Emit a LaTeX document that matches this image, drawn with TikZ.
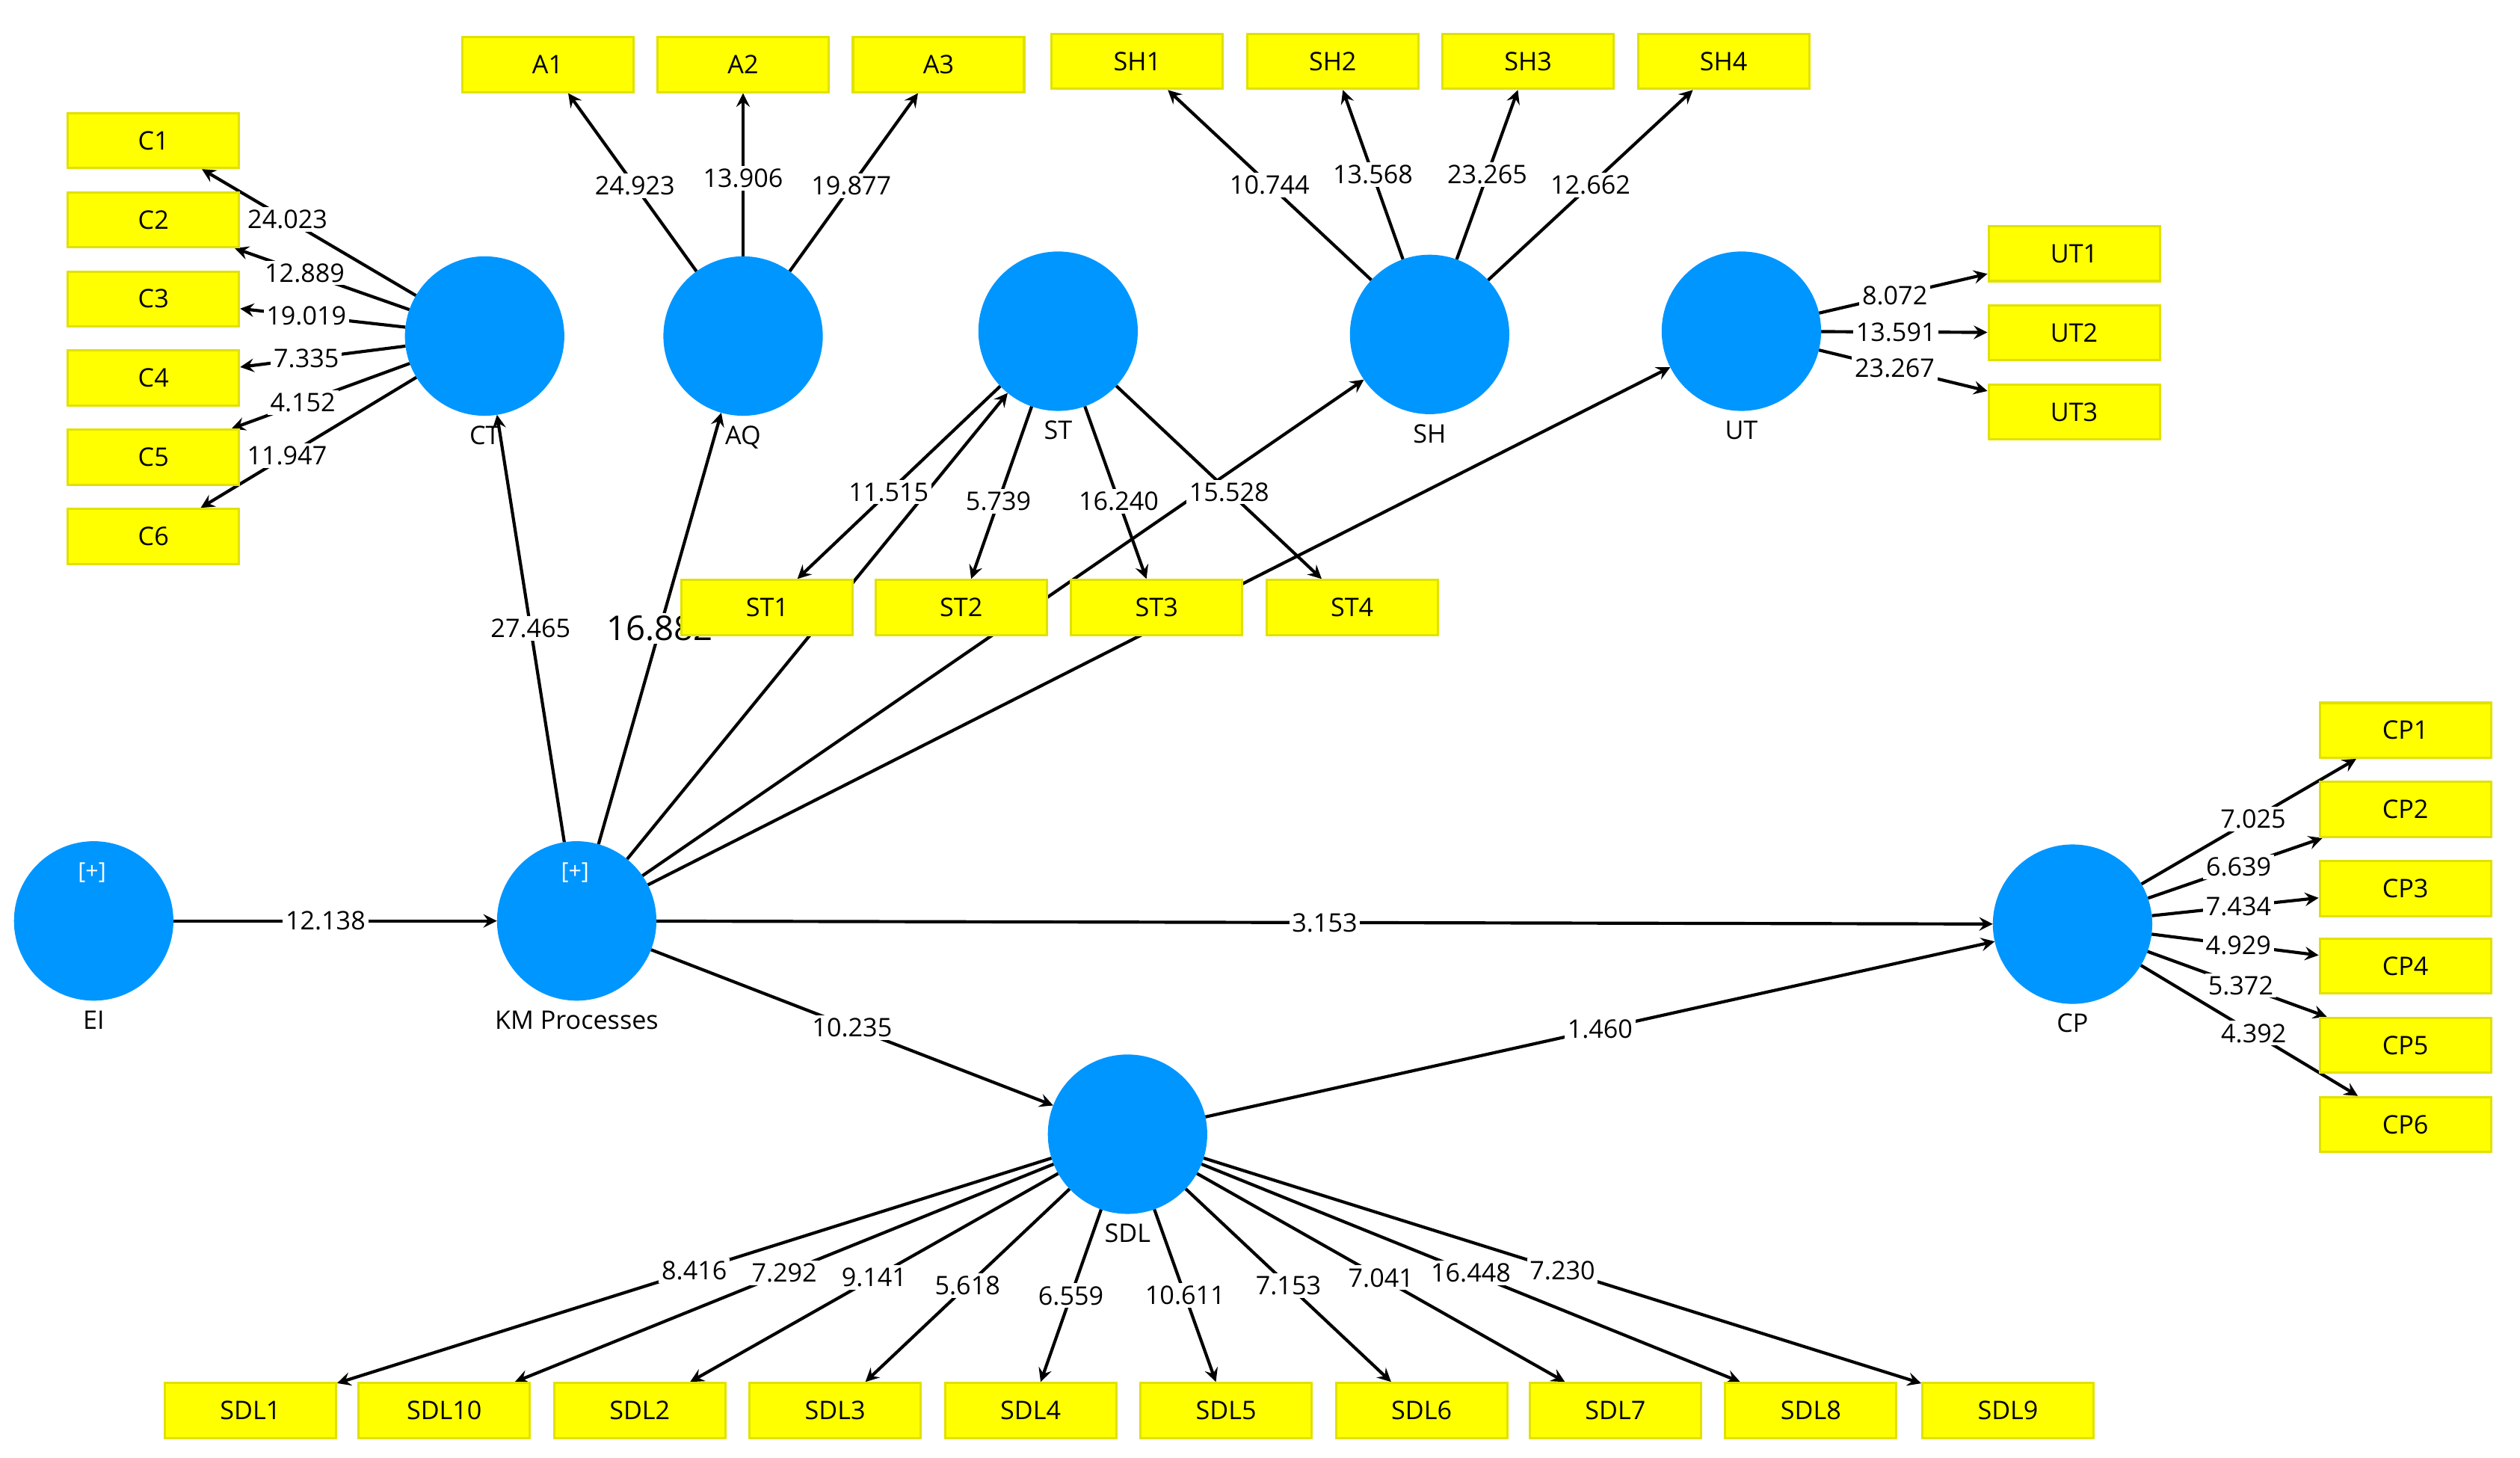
\documentclass[tikz,border=0pt]{standalone}
\usepackage{fontspec}
\setmainfont{Open Sans}
\usetikzlibrary{backgrounds}
\definecolor{lvblue}{RGB}{0,150,255}
\definecolor{boxyellow}{RGB}{255,255,0}
\definecolor{boxedge}{RGB}{225,225,0}
\tikzset{
	lv/.style={circle, fill=lvblue, draw=lvblue, minimum size=1.96cm, inner sep=0pt, label distance=0.3cm},
	ind/.style={rectangle, fill=boxyellow, draw=boxedge, line width=0.8pt, minimum width=2.12cm, minimum height=0.68cm, font=\fontsize{9}{10}\selectfont},
	val/.style={fill=white, inner sep=1pt, font=\fontsize{9}{10}\selectfont},
	arr/.style={->, >=stealth, line width=1.1pt}
}
\begin{document}
\begin{tikzpicture}[x=0.02cm, y=-0.02cm, every label/.style={font=\fontsize{9}{10}\selectfont}]
	\useasboundingbox (0,0) rectangle (1560,902);
	% latent variables
	\node[lv, label=below:{CT}] (CT)at(300,208) {};
	\node[lv, label=below:{AQ}] (AQ)at(460,208) {};
	\node[lv, label=below:{ST}] (ST)at(655,205) {};
	\node[lv, label=below:{SH}] (SH)at(885,207) {};
	\node[lv, label=below:{UT}] (UT)at(1078,205) {};
	\node[lv, label=below:{EI}] (EI)at(58,570) {};
	\node[lv, label=below:{KM Processes}] (KM)at(357,570) {};
	\node[lv, label=below:{CP}] (CP)at(1283,572) {};
	\node[lv, label=below:{SDL}] (SDL)at(698,702) {};
	\node[text=white, font=\fontsize{8}{9}\selectfont] (EIp)at(57,540) {[+]};
	\node[text=white, font=\fontsize{8}{9}\selectfont] (KMp)at(356,540) {[+]};
	% indicators
	\node[ind] (C1)at(95,87) {C1};
	\node[ind] (C2)at(95,136) {C2};
	\node[ind] (C3)at(95,185) {C3};
	\node[ind] (C4)at(95,234) {C4};
	\node[ind] (C5)at(95,283) {C5};
	\node[ind] (C6)at(95,332) {C6};
	\node[ind] (A1)at(339,40) {A1};
	\node[ind] (A2)at(460,40) {A2};
	\node[ind] (A3)at(581,40) {A3};
	\node[ind] (SH1)at(704,38) {SH1};
	\node[ind] (SH2)at(825,38) {SH2};
	\node[ind] (SH3)at(946,38) {SH3};
	\node[ind] (SH4)at(1067,38) {SH4};
	\node[ind] (UT1)at(1284,157) {UT1};
	\node[ind] (UT2)at(1284,206) {UT2};
	\node[ind] (UT3)at(1284,255) {UT3};
	\node[ind] (ST1)at(475,376) {ST1};
	\node[ind] (ST2)at(595,376) {ST2};
	\node[ind] (ST3)at(716,376) {ST3};
	\node[ind] (ST4)at(837,376) {ST4};
	\node[ind] (CP1)at(1489,452) {CP1};
	\node[ind] (CP2)at(1489,501) {CP2};
	\node[ind] (CP3)at(1489,550) {CP3};
	\node[ind] (CP4)at(1489,598) {CP4};
	\node[ind] (CP5)at(1489,647) {CP5};
	\node[ind] (CP6)at(1489,696) {CP6};
	\node[ind] (SDL1)at(155,873) {SDL1};
	\node[ind] (SDL10)at(275,873) {SDL10};
	\node[ind] (SDL2)at(396,873) {SDL2};
	\node[ind] (SDL3)at(517,873) {SDL3};
	\node[ind] (SDL4)at(638,873) {SDL4};
	\node[ind] (SDL5)at(759,873) {SDL5};
	\node[ind] (SDL6)at(880,873) {SDL6};
	\node[ind] (SDL7)at(1000,873) {SDL7};
	\node[ind] (SDL8)at(1121,873) {SDL8};
	\node[ind] (SDL9)at(1243,873) {SDL9};
	\begin{pgfonlayer}{background}
	% structural paths
	\draw[arr] (EI) -- node[val, pos=0.47] {12.138} (KM);
	\draw[arr] (KM) -- node[val] {27.465} (CT);
	\draw[arr] (KM) -- node[val, font=\fontsize{12}{13}\selectfont] {16.882} (AQ);
	\draw[arr] (KM) -- (ST);
	\draw[arr] (KM) -- (SH);
	\draw[arr] (KM) -- (UT);
	\draw[arr] (KM) -- node[val] {3.153} (CP);
	\draw[arr] (KM) -- node[val] {10.235} (SDL);
	\draw[arr] (SDL) -- node[val] {1.460} (CP);
	% outer loadings
	\draw[arr] (CT) -- node[val, pos=0.6] {24.023} (C1);
	\draw[arr] (CT) -- node[val, pos=0.6] {12.889} (C2);
	\draw[arr] (CT) -- node[val, pos=0.6] {19.019} (C3);
	\draw[arr] (CT) -- node[val, pos=0.6] {7.335} (C4);
	\draw[arr] (CT) -- node[val, pos=0.6] {4.152} (C5);
	\draw[arr] (CT) -- node[val, pos=0.6] {11.947} (C6);
	\draw[arr] (AQ) -- node[val, pos=0.48] {24.923} (A1);
	\draw[arr] (AQ) -- node[val, pos=0.48] {13.906} (A2);
	\draw[arr] (AQ) -- node[val, pos=0.48] {19.877} (A3);
	\draw[arr] (SH) -- node[val, pos=0.5] {10.744} (SH1);
	\draw[arr] (SH) -- node[val, pos=0.5] {13.568} (SH2);
	\draw[arr] (SH) -- node[val, pos=0.5] {23.265} (SH3);
	\draw[arr] (SH) -- node[val, pos=0.5] {12.662} (SH4);
	\draw[arr] (UT) -- node[val, pos=0.45] {8.072} (UT1);
	\draw[arr] (UT) -- node[val, pos=0.45] {13.591} (UT2);
	\draw[arr] (UT) -- node[val, pos=0.45] {23.267} (UT3);
	\draw[arr] (ST) -- node[val, pos=0.55] {11.515} (ST1);
	\draw[arr] (ST) -- node[val, pos=0.55] {5.739} (ST2);
	\draw[arr] (ST) -- node[val, pos=0.55] {16.240} (ST3);
	\draw[arr] (ST) -- node[val, pos=0.55] {15.528} (ST4);
	\draw[arr] (CP) -- node[val, pos=0.52] {7.025} (CP1);
	\draw[arr] (CP) -- node[val, pos=0.52] {6.639} (CP2);
	\draw[arr] (CP) -- node[val, pos=0.52] {7.434} (CP3);
	\draw[arr] (CP) -- node[val, pos=0.52] {4.929} (CP4);
	\draw[arr] (CP) -- node[val, pos=0.52] {5.372} (CP5);
	\draw[arr] (CP) -- node[val, pos=0.52] {4.392} (CP6);
	\draw[arr] (SDL) -- node[val] {8.416} (SDL1);
	\draw[arr] (SDL) -- node[val] {7.292} (SDL10);
	\draw[arr] (SDL) -- node[val] {9.141} (SDL2);
	\draw[arr] (SDL) -- node[val] {5.618} (SDL3);
	\draw[arr] (SDL) -- node[val] {6.559} (SDL4);
	\draw[arr] (SDL) -- node[val] {10.611} (SDL5);
	\draw[arr] (SDL) -- node[val] {7.153} (SDL6);
	\draw[arr] (SDL) -- node[val] {7.041} (SDL7);
	\draw[arr] (SDL) -- node[val] {16.448} (SDL8);
	\draw[arr] (SDL) -- node[val] {7.230} (SDL9);
	\end{pgfonlayer}
\end{tikzpicture}
\end{document}
